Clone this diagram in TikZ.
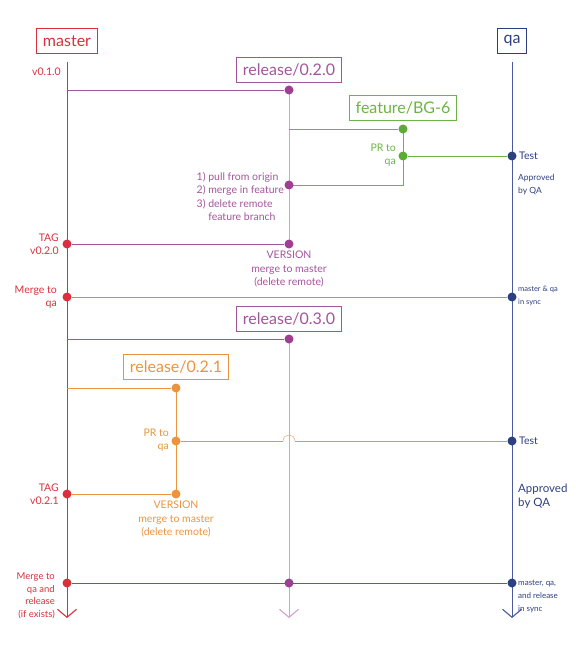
\documentclass[tikz,border=0pt]{standalone}
\usepackage{fontspec}
\setmainfont{Lato}
\usetikzlibrary{arrows.meta,backgrounds}

\definecolor{mred}{HTML}{D8313B}
\definecolor{mpink}{HTML}{E87A7C}
\definecolor{rpurp}{HTML}{A3559C}
\definecolor{rdot}{HTML}{9E3F91}
\definecolor{rline}{HTML}{D4A0CC}
\definecolor{fgreen}{HTML}{6CB444}
\definecolor{fdot}{HTML}{5BAB34}
\definecolor{rorange}{HTML}{EA9440}
\definecolor{qblue}{HTML}{2E3F80}
\definecolor{qline}{HTML}{4A5A9C}

\begin{document}
\begin{tikzpicture}[x=1pt,y=-1pt,
  box/.style={draw,line width=1pt,minimum height=25pt,inner xsep=6pt,inner ysep=0pt,font=\fontsize{16}{16}\selectfont},
  dot/.style={circle,fill,inner sep=0pt,minimum size=9pt},
  lbl/.style={font=\fontsize{10.5}{13.5}\selectfont,inner sep=0pt},
  small/.style={font=\fontsize{8.5}{13}\selectfont,inner sep=0pt},
  line/.style={line width=1.5pt},
  tip/.style={-{Straight Barb[length=8pt,width=19pt,line width=1.1pt]}},
]
\useasboundingbox (0,0) rectangle (575,652);

\node[box,mred] (master) at (67,41) {master};
\node[box,qblue] (qa) at (512,41) {qa};
\node[box,rpurp] (rel020) at (289,70) {release/0.2.0};
\node[box,fgreen] (feat) at (403,108) {feature/BG-6};
\node[box,rpurp] (rel030) at (289,319) {release/0.3.0};
\node[box,rorange] (rel021) at (176,367) {release/0.2.1};

\coordinate (mtop) at (67,62);   \coordinate (mend) at (67,618);
\coordinate (qtop) at (512,62);  \coordinate (qend) at (512,618);
\coordinate (send) at (289,618);
\coordinate (b1) at (67,90);   \coordinate (b2) at (289,129);
\coordinate (b3) at (67,339);  \coordinate (b4) at (67,388);
\coordinate (hopL) at (283,441); \coordinate (hopR) at (295,441);

\node[dot,rdot] (r1) at (289,90) {};
\node[dot,fdot] (f1) at (403,129) {};
\node[dot,fdot] (f2) at (403,156) {};
\node[dot,qblue] (q1) at (512,156) {};
\node[dot,rdot] (r2) at (289,185) {};
\node[dot,mred] (m1) at (67,244) {};
\node[dot,rdot] (r3) at (289,244) {};
\node[dot,mred] (m2) at (67,297) {};
\node[dot,qblue] (q2) at (512,297) {};
\node[dot,rdot] (s1) at (289,339) {};
\node[dot,rorange] (o1) at (176,388) {};
\node[dot,rorange] (o2) at (176,441) {};
\node[dot,qblue] (q3) at (512,441) {};
\node[dot,mred] (m3) at (67,494) {};
\node[dot,rorange] (o3) at (176,494) {};
\node[dot,mred] (m4) at (67,583) {};
\node[dot,rdot] (s2) at (289,583) {};
\node[dot,qblue] (q4) at (512,583) {};

\begin{scope}[on background layer,line]
\draw[mred,tip] (mtop) -- (mend);
\draw[qline,tip] (qtop) -- (qend);
\draw[rline] (r1.center) -- (r3.center);
\draw[rline,tip] (s1.center) -- (send);
\draw[rpurp] (b1) -- (r1);
\draw[fgreen] (b2) -- (f1);
\draw[fgreen] (f1.center) |- (r2.center);
\draw[fgreen] (f2) -- (q1);
\draw[rpurp] (m1) -- (r3);
\draw[mpink] (m2) -- (q2);
\draw[rpurp] (b3) -- (s1);
\draw[rorange] (b4) -- (o1);
\draw[rorange] (o1.center) -- (o3.center);
\draw[rorange] (o2) -- (hopL);
\draw[rorange] (hopL) .. controls (283,433) and (295,433) .. (hopR);
\draw[rorange] (hopR) -- (q3);
\draw[rorange] (m3) -- (o3);
\draw[mred] (m4) -- (q4);
\end{scope}

\node[lbl,mred,anchor=east] (v010) at (61,72) {v0.1.0};
\node[lbl,mred,anchor=east,align=right] (tag020) at (59,244) {TAG\\v0.2.0};
\node[lbl,mred,anchor=east,align=right] (mrg1) at (57,297) {Merge to\\qa};
\node[lbl,fgreen,anchor=east,align=right] (pr1) at (396,155) {PR to\\qa};
\node[lbl,rpurp,anchor=east,align=left] (steps) at (284,197) {1) pull from origin\\2) merge in feature\\3) delete remote\\\phantom{3) }feature branch};
\node[lbl,rpurp,anchor=north,align=center] (ver1) at (289,251) {VERSION\\merge to master\\(delete remote)};
\node[lbl,qblue,anchor=west] (test1) at (519,156) {Test};
\node[small,qblue,anchor=west,align=left] (appr1) at (518,185) {Approved\\by QA};
\node[small,qblue,anchor=west,align=left,font=\fontsize{7.5}{13}\selectfont] (sync1) at (518,296) {master \& qa\\in sync};
\node[lbl,rorange,anchor=east,align=right] (pr2) at (169,440) {PR to\\qa};
\node[lbl,mred,anchor=east,align=right] (tag021) at (59,494) {TAG\\v0.2.1};
\node[lbl,rorange,anchor=north,align=center] (ver2) at (176,501) {VERSION\\merge to master\\(delete remote)};
\node[lbl,qblue,anchor=west] (test2) at (519,441) {Test};
\node[lbl,qblue,anchor=west,align=left,font=\fontsize{11.5}{14}\selectfont] (appr2) at (518,496) {Approved\\by QA};
\node[small,mred,anchor=east,align=right,font=\fontsize{9.5}{12.5}\selectfont] (mrg2) at (55,596) {Merge to\\qa and\\release\\(if exists)};
\node[small,qblue,anchor=west,align=left,font=\fontsize{8}{13}\selectfont] (sync2) at (518,596) {master, qa,\\and release\\in sync};
\end{tikzpicture}
\end{document}
